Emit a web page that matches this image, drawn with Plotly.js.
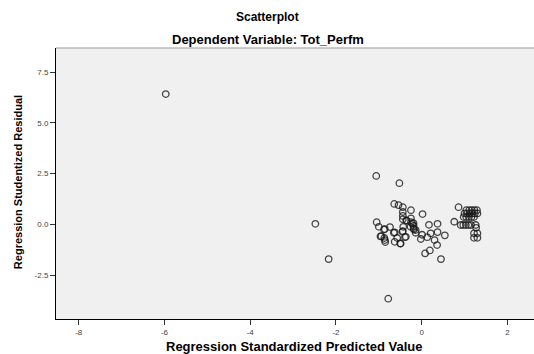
<!DOCTYPE html>
<html><head><meta charset="utf-8">
<script src="https://cdn.plot.ly/plotly-3.0.1.min.js"></script>
<style>html,body{margin:0;padding:0;background:#fff}#chart{width:534px;height:354px}</style>
</head><body><div id="chart"></div>
<script>
var chartTitle = "Scatterplot";
var chartSubtitle = "Dependent Variable: Tot_Perfm";
var xLabel = "Regression Standardized Predicted Value";
var yLabel = "Regression Studentized Residual";
var xTickVals = [-8, -6, -4, -2, 0, 2];
var yTickVals = [-2.5, 0, 2.5, 5, 7.5];

var predicted = [
  -5.97, -2.48, -2.17, -0.78, -1.06, -0.52,
  -0.64, -0.54, -0.44, -0.25, 0.02, -0.44, -0.44, -0.44, -0.36, -0.25, -0.25, -0.19, -0.19, -0.19, -0.14,
  -1.05, -1.00, -0.86, -0.74, -0.63, -0.44, -0.39, -0.57, -0.63, -0.50, -0.96, -0.87, -0.85, -0.86,
  -0.45, -0.37, -0.43, -0.26, -0.18, -0.14, -0.22, -0.35, -0.65, -0.49, -0.88, -0.94,
  0.17, 0.37, 0.01, 0.13, -0.02, 0.30, 0.37, 0.54, 0.36, 0.08, 0.19, 0.45, 0.21,
  0.86, 0.76,
  1.04, 1.11, 1.17, 1.23, 1.29,
  1.00, 1.06, 1.12, 1.18, 1.24, 1.30,
  0.98, 1.04, 1.10, 1.16, 1.22,
  0.91, 0.97, 1.03, 1.09, 1.15, 1.26,
  1.27, 1.22, 1.30, 1.22, 1.30
];
var residual = [
  6.42, 0.03, -1.71, -3.66, 2.39, 2.03,
  1.01, 0.95, 0.85, 0.70, 0.51, 0.61, 0.42, 0.25, 0.20, 0.30, 0.11, 0.06, -0.07, -0.20, -0.28,
  0.11, -0.12, -0.23, -0.13, -0.39, -0.33, -0.63, -0.67, -0.86, -0.94, -0.59, -0.67, -0.87, -0.77,
  -0.36, -0.61, -0.12, -0.12, -0.25, -0.41, 0.05, 0.18, -0.41, -0.94, -0.25, -0.58,
  -0.02, 0.03, -0.51, -0.63, -0.72, -0.77, -0.38, -0.54, -1.02, -1.43, -1.28, -1.71, -0.44,
  0.85, 0.13,
  0.70, 0.70, 0.70, 0.70, 0.70,
  0.54, 0.54, 0.54, 0.54, 0.54, 0.54,
  0.36, 0.36, 0.36, 0.36, 0.36,
  -0.03, -0.03, -0.03, -0.03, -0.03, -0.03,
  -0.17, -0.44, -0.44, -0.66, -0.66
];

var trace = {
  x: predicted, y: residual, type: 'scatter', mode: 'markers',
  marker: {symbol: 'circle-open', size: 6.5, color: 'rgba(25,25,25,0.8)', line: {width: 1.3}},
  hoverinfo: 'skip'
};

function tf(sz) { return {family: 'Liberation Sans, Arial, sans-serif', size: sz, color: '#000', weight: 'bold'}; }
var layout = {
  width: 534, height: 354,
  margin: {l: 56, r: 0, t: 48, b: 35, pad: 0},
  paper_bgcolor: '#ffffff', plot_bgcolor: '#f0f0f0',
  showlegend: false,
  font: {family: 'Liberation Sans, Arial, sans-serif', size: 8, color: '#444'},
  xaxis: {range: [-8.53, 2.62], tickvals: xTickVals, ticktext: xTickVals.map(String),
    showgrid: false, zeroline: false, showline: true, linecolor: '#000', linewidth: 1,
    ticks: 'outside', ticklen: 5, tickcolor: '#333', tickfont: {size: 8, color: '#444'}},
  yaxis: {range: [-4.66, 8.69], tickvals: yTickVals, ticktext: yTickVals.map(function(v){return v.toFixed(1);}),
    showgrid: false, zeroline: false, showline: true, linecolor: '#000', linewidth: 1,
    ticks: 'outside', ticklen: 5, tickcolor: '#333', tickfont: {size: 8, color: '#444'}},
  shapes: [{type: 'line', xref: 'paper', yref: 'paper', x0: 0, x1: 1, y0: 1, y1: 1,
    line: {color: '#999', width: 1}}],
  annotations: [
    {text: '<b>' + chartTitle + '</b>', xref: 'paper', yref: 'paper', x: 0.4425, y: 1.114,
      xanchor: 'center', yanchor: 'middle', showarrow: false, font: tf(12)},
    {text: '<b>' + chartSubtitle + '</b>', xref: 'paper', yref: 'paper', x: 0.4425, y: 1.033,
      xanchor: 'center', yanchor: 'middle', showarrow: false, font: tf(13)},
    {text: '<b>' + xLabel + '</b>', xref: 'paper', yref: 'paper', x: 0.498, y: -0.1,
      xanchor: 'center', yanchor: 'middle', showarrow: false, font: tf(13)},
    {text: '<b>' + yLabel + '</b>', xref: 'paper', yref: 'paper', x: -0.0795, y: 0.505,
      xanchor: 'center', yanchor: 'middle', showarrow: false, textangle: -90, font: tf(11)}
  ]
};
Plotly.newPlot('chart', [trace], layout, {displayModeBar: false, staticPlot: true});
</script></body></html>
